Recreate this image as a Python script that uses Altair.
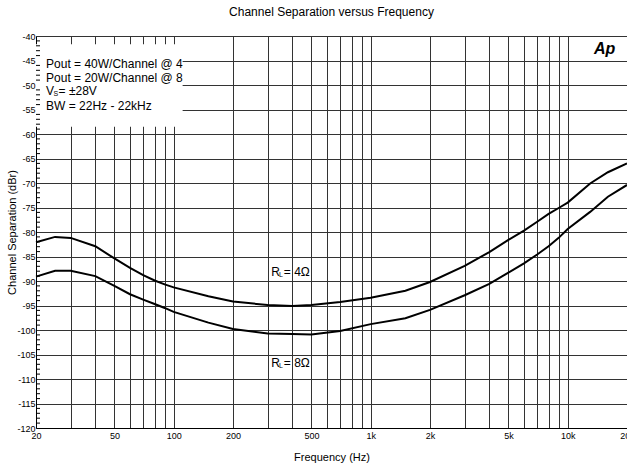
import altair as alt
import pandas as pd

# ---------------- data ----------------
freq_hz = [20, 25, 30, 40, 50, 60, 70, 80, 90, 100, 150, 200, 300, 400, 500, 700,
           1000, 1500, 2000, 3000, 4000, 5000, 6000, 7000, 8000, 9000, 10000,
           13000, 16000, 20000]
sep_4ohm = [-82.1, -81.0, -81.2, -82.9, -85.4, -87.3, -88.8, -89.9, -90.7, -91.3,
            -93.1, -94.2, -94.9, -95.1, -94.9, -94.3, -93.4, -92.0, -90.2, -86.9,
            -84.1, -81.6, -79.7, -77.9, -76.3, -75.1, -74.0, -70.1, -67.8, -66.0]
sep_8ohm = [-89.1, -87.9, -87.9, -89.0, -91.0, -92.7, -93.8, -94.7, -95.5, -96.3,
            -98.5, -99.8, -100.7, -100.8, -100.9, -100.2, -98.8, -97.6, -95.9, -92.9,
            -90.6, -88.3, -86.4, -84.6, -82.9, -81.2, -79.4, -75.9, -72.8, -70.4]

grid_freqs = [20, 30, 40, 50, 60, 70, 80, 90, 100, 200, 300, 400, 500, 600, 700, 800,
              900, 1000, 2000, 3000, 4000, 5000, 6000, 7000, 8000, 9000, 10000, 20000]
label_freqs = [20, 50, 100, 200, 500, 1000, 2000, 5000, 10000, 20000]
db_ticks = list(range(-120, -39, 5))
minor_db = [v for v in range(-119, -40) if v % 5 != 0]

info_lines = ["Pout = 40W/Channel @ 4", "Pout = 20W/Channel @ 8", "BW = 22Hz - 22kHz"]
info_db = [-45.8, -48.5, -54.3]
info_x = 22.5
vs_db = -51.2
rl_text = ["= 4\u03a9", "= 8\u03a9"]
rl_db = [-88.1, -106.8]
rl_x = 313
box_f = [20, 111]
box_db = [-41.7, -58.5]

FONT = "Liberation Sans"

curves = pd.DataFrame({
    "f": freq_hz * 2,
    "db": sep_4ohm + sep_8ohm,
    "load": ["4"] * len(freq_hz) + ["8"] * len(freq_hz),
})

x_scale = alt.Scale(type="log", domain=[20, 20000], nice=False)
y_scale = alt.Scale(domain=[-120, -40], nice=False)

lab_list = ",".join(str(v) for v in label_freqs)
x_axis = alt.Axis(
    values=grid_freqs,
    labelExpr=f"indexof([{lab_list}], datum.value) >= 0 ? (datum.value >= 1000 ? (datum.value/1000) + 'k' : '' + datum.value) : ''",
    title="Frequency (Hz)", grid=True, tickSize=0, labelPadding=3,
    labelOverlap=False, labelFlush=False, titleY=29, titleBaseline="middle",
)
y_axis = alt.Axis(
    values=db_ticks, grid=True, tickSize=0, labelPadding=1,
    labelExpr="'' + datum.value",
    labelOverlap=False, labelFlush=False, labelBaseline="middle",
    title="Channel Separation (dBr)", titleX=-24, titleY=196,
    titleAngle=270, titleAlign="center", titleBaseline="middle",
)

X = alt.X("f:Q", scale=x_scale, axis=x_axis)
Y = alt.Y("db:Q", scale=y_scale, axis=y_axis)

lines = alt.Chart(curves).mark_line(color="black", strokeWidth=2).encode(
    x=X, y=Y, detail="load:N",
)

box_df = pd.DataFrame({"f": [box_f[0]], "f2": [box_f[1]], "db": [box_db[0]], "db2": [box_db[1]]})
box = alt.Chart(box_df).mark_rect(color="white").encode(x=X, x2="f2", y=Y, y2="db2")

minor = alt.Chart(pd.DataFrame({"db": minor_db})).mark_rule(color="black", strokeWidth=1).encode(
    x=alt.value(0), x2=alt.value(4), y=Y
)

TXT = dict(align="left", baseline="middle", font=FONT, color="black")

info_df = pd.DataFrame({"f": [info_x] * len(info_lines), "db": info_db, "t": info_lines})
info = alt.Chart(info_df).mark_text(fontSize=12, **TXT).encode(x=X, y=Y, text="t:N")

vs_df = pd.DataFrame({"f": [info_x], "db": [vs_db], "a": ["V"], "b": ["S"], "c": ["= \u00b128V"]})
vs_a = alt.Chart(vs_df).mark_text(fontSize=12, **TXT).encode(x=X, y=Y, text="a:N")
vs_b = alt.Chart(vs_df).mark_text(fontSize=7, dx=7.5, dy=3, **TXT).encode(x=X, y=Y, text="b:N")
vs_c = alt.Chart(vs_df).mark_text(fontSize=12, dx=12.5, **TXT).encode(x=X, y=Y, text="c:N")

rl_df = pd.DataFrame({"f": [rl_x] * 2, "db": rl_db, "a": ["R", "R"], "b": ["L", "L"], "c": rl_text})
rl_a = alt.Chart(rl_df).mark_text(fontSize=12, **TXT).encode(x=X, y=Y, text="a:N")
rl_b = alt.Chart(rl_df).mark_text(fontSize=7, dx=7.8, dy=3, **TXT).encode(x=X, y=Y, text="b:N")
rl_c = alt.Chart(rl_df).mark_text(fontSize=12, dx=12.5, **TXT).encode(x=X, y=Y, text="c:N")

logo_df = pd.DataFrame({"f": [15400], "db": [-43.6], "t": ["Ap"]})
logo = alt.Chart(logo_df).mark_text(align="center", baseline="alphabetic", font=FONT, fontSize=16,
                                     fontWeight="bold", fontStyle="italic", color="black").encode(
    x=X, y=Y, text="t:N")

chart = alt.layer(
    lines, box, minor, info, vs_a, vs_b, vs_c, rl_a, rl_b, rl_c, logo
).properties(
    width=591, height=392,
    background="white",
    title=alt.TitleParams("Channel Separation versus Frequency", font=FONT, fontSize=12,
                          fontWeight="normal", color="black", anchor="middle", offset=13),
    autosize=alt.AutoSizeParams(type="none"),
    padding={"left": 36, "top": 36, "right": 0, "bottom": 41},
).configure_view(stroke=None).configure_axis(
    gridColor="#333333", gridWidth=1, gridOpacity=1, domainColor="black", domainWidth=1,
    labelFont=FONT, labelFontSize=9, labelColor="black",
    titleFont=FONT, titleFontSize=11, titleFontWeight="normal", titleColor="black",
)

chart.save("out.html", embed_options={"renderer": "svg", "actions": False})
